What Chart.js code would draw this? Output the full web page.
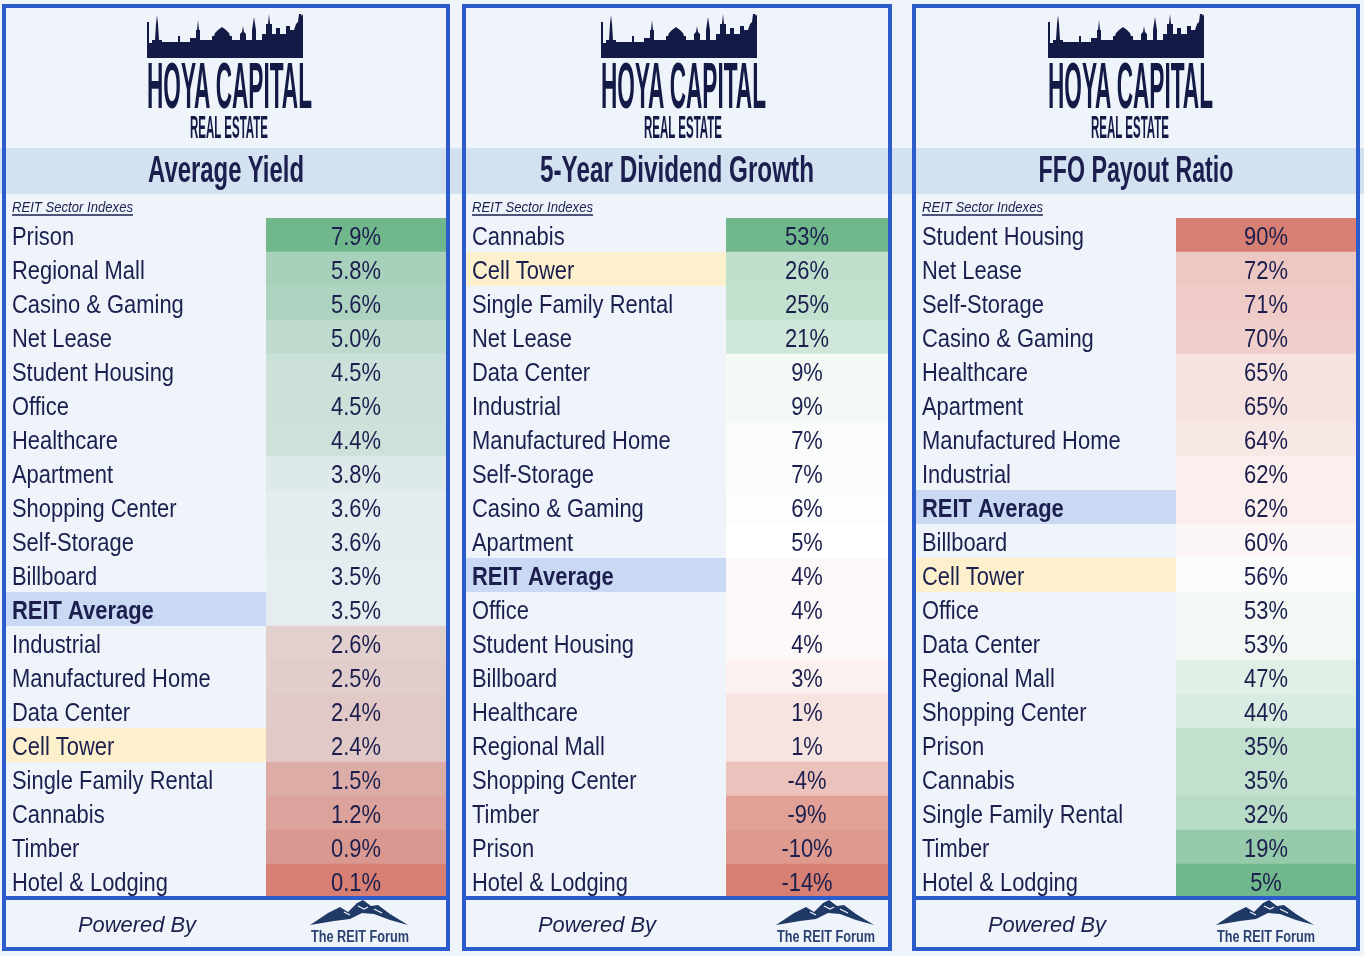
<!DOCTYPE html>
<html>
<head>
<meta charset="utf-8">
<script src="https://cdn.jsdelivr.net/npm/chart.js@4.4.1/dist/chart.umd.min.js"></script>
<style>
  html, body { margin: 0; padding: 0; background: #eff4fb; width: 1364px; height: 956px; overflow: hidden; }
  canvas { position: absolute; z-index: 1; }
  #deco { position: absolute; left: 0; top: 0; z-index: 2; pointer-events: none; }
  #band { position: absolute; left: 0; top: 148px; width: 1364px; height: 46px; background: #d3e2f0; z-index: 0; }
</style>
</head>
<body>
<div id="band"></div>
<svg id="deco" width="1364" height="956" xmlns="http://www.w3.org/2000/svg"></svg>
<canvas id="c0" width="440" height="680"></canvas>
<canvas id="c1" width="422" height="680"></canvas>
<canvas id="c2" width="440" height="680"></canvas>
<script>
// ---------------- DATA ----------------
const panelTitles = ['Average Yield', '5-Year Dividend Growth', 'FFO Payout Ratio'];

const yieldLabels = ['Prison', 'Regional Mall', 'Casino & Gaming', 'Net Lease', 'Student Housing', 'Office',
  'Healthcare', 'Apartment', 'Shopping Center', 'Self-Storage', 'Billboard', 'REIT Average', 'Industrial',
  'Manufactured Home', 'Data Center', 'Cell Tower', 'Single Family Rental', 'Cannabis', 'Timber', 'Hotel & Lodging'];
const yieldValues = [7.9, 5.8, 5.6, 5.0, 4.5, 4.5, 4.4, 3.8, 3.6, 3.6, 3.5, 3.5, 2.6, 2.5, 2.4, 2.4, 1.5, 1.2, 0.9, 0.1];

const growthLabels = ['Cannabis', 'Cell Tower', 'Single Family Rental', 'Net Lease', 'Data Center', 'Industrial',
  'Manufactured Home', 'Self-Storage', 'Casino & Gaming', 'Apartment', 'REIT Average', 'Office', 'Student Housing',
  'Billboard', 'Healthcare', 'Regional Mall', 'Shopping Center', 'Timber', 'Prison', 'Hotel & Lodging'];
const growthValues = [53, 26, 25, 21, 9, 9, 7, 7, 6, 5, 4, 4, 4, 3, 1, 1, -4, -9, -10, -14];

const payoutLabels = ['Student Housing', 'Net Lease', 'Self-Storage', 'Casino & Gaming', 'Healthcare', 'Apartment',
  'Manufactured Home', 'Industrial', 'REIT Average', 'Billboard', 'Cell Tower', 'Office', 'Data Center',
  'Regional Mall', 'Shopping Center', 'Prison', 'Cannabis', 'Single Family Rental', 'Timber', 'Hotel & Lodging'];
const payoutValues = [90, 72, 71, 70, 65, 65, 64, 62, 62, 60, 56, 53, 53, 47, 44, 35, 35, 32, 19, 5];

// ---------------- STYLE / LAYOUT ----------------
const SANS = "'Liberation Sans', Arial, sans-serif";
const TEXT = '#1c1f4e';
const BORDER = '#2c5bcc';
const GREEN = [112, 183, 140];
const RED = [214, 127, 114];
const SQUEEZE = 0.843;   // horizontal compression of the table text

const panels = [
  { labels: yieldLabels, values: yieldValues, mid: 3.5, midCol: [230, 237, 240], highGood: true, decimals: 1,
    left: 6, width: 440, logoCx: 229, poweredCx: 137, forumCx: 360, titleLen: 156 },
  { labels: growthLabels, values: growthValues, mid: 5, midCol: [255, 255, 255], highGood: true, decimals: 0,
    left: 466, width: 422, logoCx: 683, poweredCx: 597, forumCx: 826, titleLen: 274 },
  { labels: payoutLabels, values: payoutValues, mid: 58, midCol: [255, 255, 255], highGood: false, decimals: 0,
    left: 916, width: 440, logoCx: 1130, poweredCx: 1047, forumCx: 1266, titleLen: 195 }
];
const highlights = { 'REIT Average': '#cad9f3', 'Cell Tower': '#fdf1cd' };

function mix(a, b, t) { return a.map((v, i) => Math.round(v + (b[i] - v) * t)); }
function heat(v, p) {
  const hi = Math.max(...p.values), lo = Math.min(...p.values);
  const hiCol = p.highGood ? GREEN : RED, loCol = p.highGood ? RED : GREEN;
  let c;
  if (v >= p.mid) c = mix(p.midCol, hiCol, (v - p.mid) / (hi - p.mid));
  else c = mix(p.midCol, loCol, (p.mid - v) / (p.mid - lo));
  return 'rgb(' + c.join(',') + ')';
}

// ---------------- DECORATION (SVG) ----------------
const NS = 'http://www.w3.org/2000/svg';
const svg = document.getElementById('deco');
function el(tag, attrs, text) {
  const e = document.createElementNS(NS, tag);
  for (const k in attrs) e.setAttribute(k, attrs[k]);
  if (text !== undefined) e.textContent = text;
  svg.appendChild(e);
  return e;
}
const skyline = 'M147,58 L147,22 L149,22 L149,43 L152,43 L152,40 L155,40 L156,24 L157,15 L158,24 L159,40 L162,40 L162,42 L178,42 L178,36 L180,36 L180,42 L190,42 L190,38 L196,38 L196,30 L197,30 L198,20 L199,30 L200,30 L200,40 L212,40 L212,36 L214,36 L215,33 L218,30 L222,27 L226,30 L229,33 L230,36 L232,36 L232,40 L240,40 L240,34 L242,32 L243,26 L244,32 L246,34 L246,40 L252,40 L252,30 L254,17 L256,30 L256,40 L262,40 L262,34 L266,34 L266,24 L268,24 L269,14 L270,24 L272,24 L272,34 L276,34 L276,28 L280,28 L280,34 L286,34 L286,26 L290,26 L290,30 L294,30 L296,24 L298,22 L299,14 L301,14 L302,16 L303,14 L303,58 Z';

panels.forEach((p, i) => {
  const outerL = p.left - 4, outerW = p.width + 8;
  el('rect', { x: outerL + 2, y: 6, width: outerW - 4, height: 943, fill: 'none', stroke: BORDER, 'stroke-width': 4 });
  el('line', { x1: outerL, y1: 898, x2: outerL + outerW, y2: 898, stroke: BORDER, 'stroke-width': 4 });
  const dx = p.logoCx - 229;
  el('path', { d: skyline, fill: '#141a46', transform: 'translate(' + dx + ',0)' });
  el('text', { x: p.logoCx - 82, y: 108, 'font-family': SANS, 'font-weight': 'bold', 'font-size': 64,
    fill: '#141a46', textLength: 165, lengthAdjust: 'spacingAndGlyphs' }, 'HOYA CAPITAL');
  el('text', { x: p.logoCx - 39, y: 138, 'font-family': SANS, 'font-weight': 'bold', 'font-size': 32,
    fill: '#141a46', textLength: 78, lengthAdjust: 'spacingAndGlyphs' }, 'REAL ESTATE');
  const cx = p.left + p.width / 2;
  el('text', { x: cx - p.titleLen / 2, y: 182, 'font-family': SANS, 'font-weight': 'bold', 'font-size': 37,
    fill: TEXT, textLength: p.titleLen, lengthAdjust: 'spacingAndGlyphs' }, panelTitles[i]);
  el('text', { x: p.left + 6, y: 212, 'font-family': SANS, 'font-style': 'italic', 'font-size': 15,
    fill: TEXT, textLength: 121, lengthAdjust: 'spacingAndGlyphs' }, 'REIT Sector Indexes');
  el('line', { x1: p.left + 6, y1: 215, x2: p.left + 127, y2: 215, stroke: TEXT, 'stroke-width': 1.5 });
  el('text', { x: p.poweredCx - 59, y: 932, 'font-family': SANS, 'font-style': 'italic',
    'font-size': 22, fill: TEXT, textLength: 118, lengthAdjust: 'spacingAndGlyphs' }, 'Powered By');
  const f = p.forumCx;
  el('path', { d: 'M' + (f - 50) + ',925 L' + (f - 32) + ',913 L' + (f - 20) + ',907 L' + (f - 12) + ',912 L' + (f - 3) + ',903 L' + (f + 3) + ',900 L' + (f + 11) + ',906 L' + (f + 18) + ',905 L' + (f + 30) + ',914 L' + (f + 48) + ',925 L' + (f + 30) + ',920 L' + (f + 14) + ',914 L' + (f + 2) + ',913 L' + (f - 10) + ',919 L' + (f - 26) + ',921 Z',
    fill: '#1f3a66' });
  el('path', { d: 'M' + (f - 2) + ',906 L' + (f + 4) + ',909 L' + (f + 8) + ',907 M' + (f - 16) + ',912 L' + (f - 10) + ',915 M' + (f + 14) + ',909 L' + (f + 22) + ',913',
    stroke: '#eff4fb', 'stroke-width': 1.2, fill: 'none' });
  el('text', { x: f - 49, y: 942, 'font-family': SANS, 'font-weight': 'bold', 'font-size': 16,
    fill: '#2b4270', textLength: 98, lengthAdjust: 'spacingAndGlyphs' }, 'The REIT Forum');
});

// ---------------- CHARTS ----------------
function panelOf(chart) { return panels[Number(chart.canvas.id.slice(1))]; }

const cellPlugin = {
  id: 'cells',
  beforeDraw(chart) {
    const { ctx, chartArea } = chart;
    const ys = chart.scales.y;
    const n = chart.data.labels.length;
    const h = (ys.bottom - ys.top) / n;
    chart.data.labels.forEach((lab, i) => {
      if (highlights[lab]) {
        const yc = ys.getPixelForValue(i);
        ctx.fillStyle = highlights[lab];
        ctx.fillRect(0, yc - h / 2, chartArea.left, h);
      }
    });
    // compress the axis labels horizontally (narrow typeface look), anchored at the label start
    const x0 = ys.left;
    ctx.save();
    ctx.translate(x0, 0);
    ctx.scale(SQUEEZE, 1);
    ctx.translate(-x0, 0);
  },
  beforeDatasetsDraw(chart) {
    chart.ctx.restore();
  },
  afterDatasetsDraw(chart) {
    const { ctx } = chart;
    const p = panelOf(chart);
    const meta = chart.getDatasetMeta(0);
    meta.data.forEach((bar, i) => {
      const cx = (bar.x + bar.base) / 2;
      ctx.save();
      ctx.translate(cx, bar.y + 3);
      ctx.scale(SQUEEZE, 1);
      ctx.font = '26px ' + SANS;
      ctx.fillStyle = TEXT;
      ctx.textAlign = 'center';
      ctx.textBaseline = 'middle';
      ctx.fillText(p.values[i].toFixed(p.decimals) + '%', 0, 0);
      ctx.restore();
    });
  }
};

panels.forEach((p, i) => {
  const canvas = document.getElementById('c' + i);
  canvas.style.left = p.left + 'px';
  canvas.style.top = '218px';
  new Chart(canvas, {
    type: 'bar',
    data: {
      labels: p.labels,
      datasets: [{
        data: p.labels.map(() => 1),
        backgroundColor: p.values.map(v => heat(v, p)),
        borderWidth: 0,
        barPercentage: 1,
        categoryPercentage: 1
      }]
    },
    options: {
      indexAxis: 'y',
      responsive: false,
      animation: false,
      layout: { padding: { left: 6, right: 0, top: 0, bottom: 0 } },
      plugins: { legend: { display: false }, tooltip: { enabled: false } },
      scales: {
        x: { display: false, min: 0, max: 1 },
        y: {
          grid: { display: false, drawTicks: false },
          border: { display: false },
          afterFit: s => { s.width = 254; s.paddingTop = 0; s.paddingBottom = 0; },
          ticks: {
            autoSkip: false,
            crossAlign: 'far',
            padding: 0,
            labelOffset: 3,
            color: TEXT,
            font: ctx => ({ family: SANS, size: 26, lineHeight: 1.2,
              weight: (ctx.tick && ctx.tick.label === 'REIT Average') ? 'bold' : 'normal' })
          }
        }
      }
    },
    plugins: [cellPlugin]
  });
});
</script>
</body>
</html>
